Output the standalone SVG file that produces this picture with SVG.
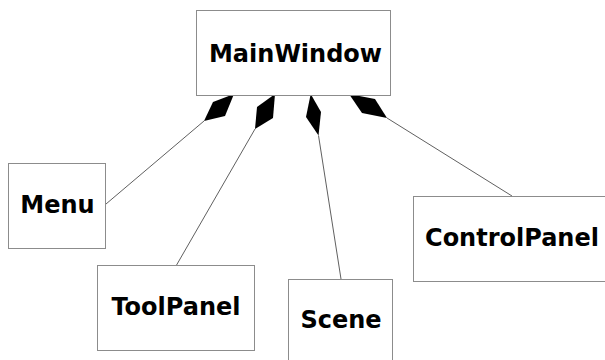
<svg xmlns="http://www.w3.org/2000/svg" width="605" height="360" viewBox="0 0 605 360">
<style>
.box{fill:#fff;stroke:#8c8c8c;stroke-width:1}
.lbl{font-family:"DejaVu Sans","Liberation Sans",sans-serif;font-weight:bold;font-size:24px;fill:#000;text-anchor:middle}
.ln{stroke:#606060;stroke-width:1;fill:none}
.dia{fill:#000;stroke:none}
</style>
<rect width="605" height="360" fill="#fff"/>
<g id="connectors">
<line class="ln" x1="204" y1="121" x2="106" y2="204"/>
<polygon class="dia" points="234,94 213,102 204,121 225,116"/>
<line class="ln" x1="255" y1="129" x2="176" y2="266"/>
<polygon class="dia" points="275,94 257,107 255,129 273,118"/>
<line class="ln" x1="318.5" y1="135.5" x2="341" y2="279"/>
<polygon class="dia" points="310.7,94 306,117 318.5,135.5 321,112"/>
<line class="ln" x1="387" y1="118" x2="512" y2="196"/>
<polygon class="dia" points="349,94 362,113 387,118 375,99"/>
</g>
<g id="MainWindow">
<rect class="box" x="196.5" y="10.5" width="194" height="85"/>
<text class="lbl" x="295.5" y="62">MainWindow</text>
</g>
<g id="Menu">
<rect class="box" x="8.5" y="163.5" width="97" height="85"/>
<text class="lbl" x="57.5" y="213">Menu</text>
</g>
<g id="ToolPanel">
<rect class="box" x="97.5" y="265.5" width="157" height="85"/>
<text class="lbl" x="176" y="315">ToolPanel</text>
</g>
<g id="Scene">
<rect class="box" x="288.5" y="279.5" width="104" height="90"/>
<text class="lbl" x="341" y="328">Scene</text>
</g>
<g id="ControlPanel">
<rect class="box" x="413.5" y="196.5" width="200" height="85"/>
<text class="lbl" x="512" y="246">ControlPanel</text>
</g>
</svg>
